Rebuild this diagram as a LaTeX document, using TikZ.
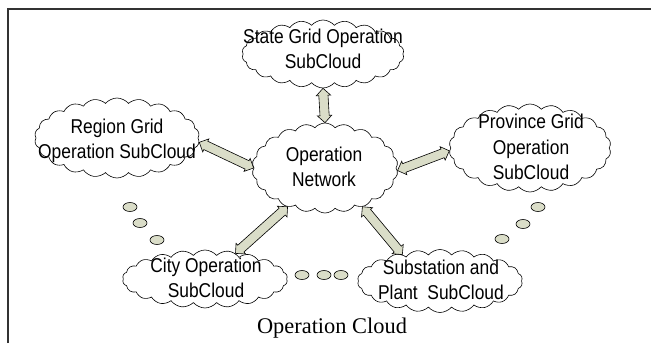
\documentclass[tikz,border=0pt]{standalone}
\usepackage{fontspec}
\setmainfont{Liberation Serif}
\newfontfamily\arialish[FakeStretch=0.87]{Liberation Sans}
\usetikzlibrary{shapes.symbols,shapes.arrows,shapes.geometric,calc}

\definecolor{pale}{RGB}{218,221,200}

% double-headed block arrow laid between two points
\newcommand\linkarrow[2]{%
  \path let \p1=(#1), \p2=(#2),
            \n1={atan2(\y2-\y1,\x2-\x1)},
            \n2={veclen(\x2-\x1,\y2-\y1)} in
    node[linkshape, minimum height=\n2, rotate=\n1] at ($(\p1)!0.5!(\p2)$) {};%
}

\tikzset{
  puff/.style={cloud, draw=black, line width=0.6pt, cloud puffs=22,
    cloud puff arc=100, cloud ignores aspect, inner sep=0pt},
  cloudtext/.style={font=\arialish\fontsize{20}{25.5}\selectfont,
    align=center, inner sep=0pt},
  linkshape/.style={double arrow, draw=black, line width=0.6pt, fill=pale,
    inner xsep=0pt, inner ysep=4.3pt, double arrow head extend=2.6pt},
  dot/.style={ellipse, draw=black, line width=0.6pt, fill=pale,
    minimum width=14pt, minimum height=9pt, inner sep=0pt},
  frameline/.style={line width=1.3pt, draw=black!80}
}

\begin{document}
\begin{tikzpicture}[x=1pt, y=-1pt]
\useasboundingbox (0,0) rectangle (651,343);

% open frame: left and top edges only
\coordinate (fbl) at (8,343);
\coordinate (ftl) at (8,9);
\coordinate (ftr) at (651,9);
\draw[frameline] (fbl) -- (ftl) -- (ftr);

% clouds
\node[puff, minimum width=162pt, minimum height=68pt] (state) at (323,54) {};
\node[puff, minimum width=165pt, minimum height=80pt] (region) at (117,138) {};
\node[puff, minimum width=146pt, minimum height=90pt] (net) at (325,168) {};
\node[puff, minimum width=162pt, minimum height=88pt] (prov) at (530,148) {};
\node[puff, minimum width=165pt, minimum height=58pt] (city) at (205,279) {};
\node[puff, minimum width=165pt, minimum height=63pt] (sub) at (440,281) {};

% cloud captions
\node[cloudtext] (stateT) at (323,49) {State Grid Operation\\SubCloud};
\node[cloudtext] (regionT) at (117,141) {Region Grid\\Operation SubCloud};
\node[cloudtext] (netT) at (324,167) {Operation\\Network};
\node[cloudtext] (provT) at (531,147) {Province Grid\\Operation\\SubCloud};
\node[cloudtext] (cityT) at (206,278) {City Operation\\SubCloud};
\node[cloudtext] (subT) at (441,280) {Substation and\\Plant~~SubCloud};

% links to the operation network
\linkarrow{state.south}{net.north}
\linkarrow{region.-3}{net.180}
\linkarrow{prov.182}{net.-2}
\linkarrow{city.40}{net.226}
\linkarrow{sub.145}{net.-46}

% ellipsis dots
\node[dot] (l1) at (130,207) {};
\node[dot] (l2) at (140,223) {};
\node[dot] (l3) at (157,240) {};
\node[dot] (m1) at (302,275) {};
\node[dot] (m2) at (324,275) {};
\node[dot] (m3) at (341,275) {};
\node[dot] (r1) at (538,207) {};
\node[dot] (r2) at (523,224) {};
\node[dot] (r3) at (502,239) {};

% overall caption
\node[font=\fontsize{22.4}{26}\selectfont, inner sep=0pt, anchor=base] (caption)
  at (332,333) {Operation Cloud};
\end{tikzpicture}
\end{document}
